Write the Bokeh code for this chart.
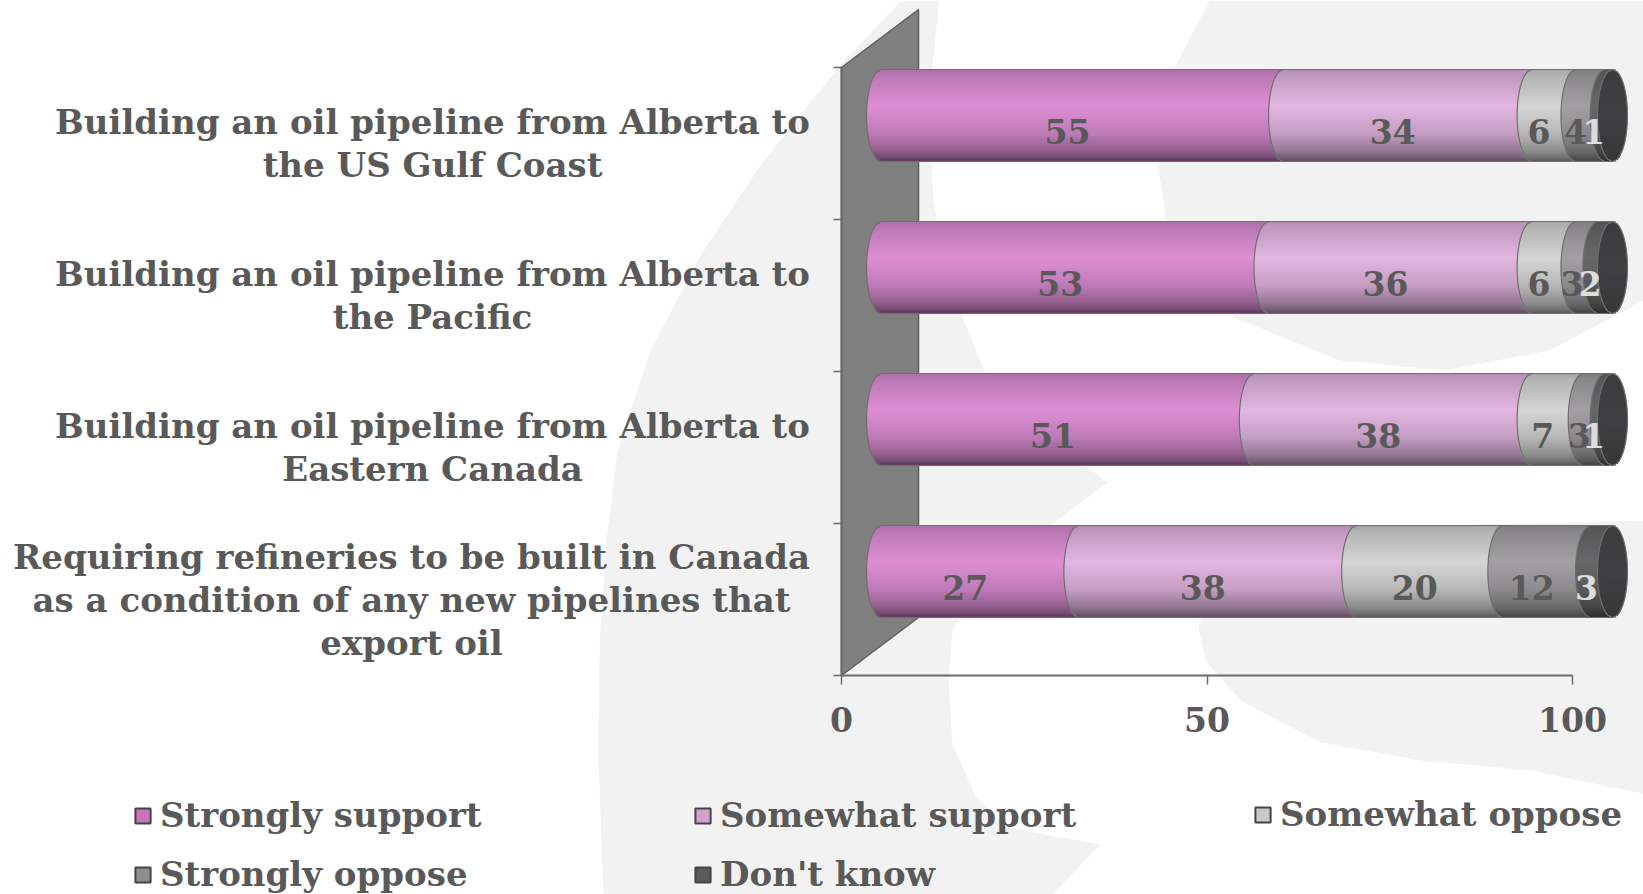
import numpy as np
from bokeh.plotting import figure
from bokeh.models import (Range1d, LinearAxis, FixedTicker, Legend, LegendItem,
                          ColumnDataSource)
from bokeh.core.properties import value
from bokeh.embed import file_html
from bokeh.resources import INLINE

# ---------------- data ----------------
categories = [
    "Building an oil pipeline from Alberta to\nthe US Gulf Coast",
    "Building an oil pipeline from Alberta to\nthe Pacific",
    "Building an oil pipeline from Alberta to\nEastern Canada",
    "Requiring refineries to be built in Canada\nas a condition of any new pipelines that\nexport oil",
]
series_names = ["Strongly support", "Somewhat support", "Somewhat oppose",
                "Strongly oppose", "Don't know"]
strongly_support = [55, 53, 51, 27]
somewhat_support = [34, 36, 38, 38]
somewhat_oppose = [6, 6, 7, 20]
strongly_oppose = [4, 3, 3, 12]
dont_know = [1, 2, 1, 3]
x_ticks = [0, 50, 100]

series_values = [strongly_support, somewhat_support, somewhat_oppose,
                 strongly_oppose, dont_know]

# ---------------- styling / layout ----------------
FONT_NAME = "DejaVu Serif"
FONT = value(FONT_NAME)
TXT = "#595959"
peak_rgb = [(221, 142, 213), (227, 182, 225), (213, 213, 213),
            (163, 161, 163), (104, 104, 106)]
legend_colors = ["#c672bd", "#d4a0d0", "#c8c8c8", "#8e8e8e", "#5a5a5a"]
label_colors = [TXT, TXT, TXT, TXT, "#dcdcdc"]
cap_rgb = (64, 63, 66)

W, H = 1643, 894
PXX, X0PX = 7.31, 841.0     # px per x-unit, px of x=0
PXY, Y0PX = 152.0, 143.0    # px per category, px of first category centre


def X(px):
    return (px - X0PX) / PXX


def Y(py):
    return (py - Y0PX) / PXY


BDX = 40 / PXX      # 3-D depth shift of bars (x)
BDY = -28 / PXY     # 3-D depth shift of bars (y)
R = 46 / PXY        # half bar thickness
RX = 15 / PXX       # horizontal radius of cylinder ends

p = figure(width=W, height=H, x_range=Range1d(X(0), X(W)),
           y_range=Range1d(Y(H), Y(0)), output_backend="svg",
           toolbar_location=None, x_axis_type=None, y_axis_type=None,
           min_border=0, outline_line_color=None, background_fill_color="white",
           border_fill_color="white")
p.xgrid.visible = False
p.ygrid.visible = False

# ---------------- background decoration ----------------
bg = "#f2f2f2"
left_band = [(603, 894), (598, 760), (599, 644), (606, 540), (617, 450), (650, 350),
             (700, 255), (760, 165), (841, 63), (901, 0), (939, 0), (928, 100),
             (933, 200), (946, 277), (985, 373), (1040, 430), (1107, 482),
             (1030, 540), (975, 590), (952, 630), (948, 680), (952, 744),
             (975, 795), (1006, 827), (1100, 844), (1052, 894)]
top_right = [(1209, 0), (1174, 67), (1158, 167), (1170, 250), (1233, 317),
             (1339, 360), (1444, 370), (1549, 350), (1643, 300), (1643, 0)]
low_right = [(1198, 627), (1205, 600), (1240, 560), (1320, 535), (1450, 525),
             (1643, 520), (1643, 793), (1530, 770), (1420, 760), (1317, 741),
             (1240, 700), (1205, 660)]
for poly in (left_band, top_right, low_right):
    p.patch([X(a) for a, b in poly], [Y(b) for a, b in poly],
            fill_color=bg, line_color=None)

# ---------------- back wall ----------------
n_cat = len(categories)
wall_top, wall_bot = Y(67), Y(675)
depth_x, depth_y = X(918) - X(841), Y(9) - Y(67)
wx = [0, depth_x, depth_x, 0]
wy = [wall_top, wall_top + depth_y, wall_bot + depth_y, wall_bot]
p.patch(wx, wy, fill_color="#808080", line_color="#5e5e5e", line_width=1.5)

# ---------------- cylinders ----------------
N = 40
t_edges = np.linspace(0, 1, N + 1)
t_mid = (t_edges[:-1] + t_edges[1:]) / 2
mult = np.interp(t_mid, [0, 0.08, 0.4, 0.7, 0.9, 1.0],
                 [0.78, 0.85, 1.0, 0.86, 0.64, 0.42])
hmid = -R + 2 * R * t_mid
wj = RX * np.sqrt(np.clip(1 - (hmid / R) ** 2, 0, 1))
overlap = 0.8 / PXY


def shade(rgb, m):
    r, g, b = [int(max(0, min(255, round(c * m)))) for c in rgb]
    return "#%02x%02x%02x" % (r, g, b)


vals = np.array(series_values, dtype=float)          # series x category
ends = np.cumsum(vals, axis=0)
starts = ends - vals
totals = ends[-1]
yc = np.arange(n_cat) + BDY

# legend proxies: flat segment bodies, fully hidden under the shaded stripes
proxies = []
for k in range(len(series_names)):
    proxies.append(p.quad(left=list(starts[k] + BDX - 0.5 * RX),
                          right=list(ends[k] + BDX - 0.5 * RX),
                          top=list(yc - 0.4 * R), bottom=list(yc + 0.4 * R),
                          fill_color=legend_colors[k], line_color="#444444",
                          line_width=2))

for k in range(len(series_names)):
    d = dict(left=[], right=[], top=[], bottom=[], color=[])
    for i in range(n_cat):
        for j in range(N):
            d["left"].append(starts[k, i] + BDX - wj[j])
            d["right"].append(ends[k, i] + BDX - wj[j])
            d["top"].append(yc[i] - R + 2 * R * t_edges[j])
            d["bottom"].append(min(yc[i] - R + 2 * R * t_edges[j + 1] + overlap, yc[i] + R))
            d["color"].append(shade(peak_rgb[k], mult[j]))
    p.quad(left="left", right="right", top="top", bottom="bottom",
           fill_color="color", line_color=None, source=ColumnDataSource(d))

# end caps
d = dict(left=[], right=[], top=[], bottom=[], color=[])
capm = np.interp(t_mid, [0, 0.5, 1.0], [0.92, 1.0, 0.85])
for i in range(n_cat):
    for j in range(N):
        d["left"].append(totals[i] + BDX - wj[j])
        d["right"].append(totals[i] + BDX + wj[j])
        d["top"].append(yc[i] - R + 2 * R * t_edges[j])
        d["bottom"].append(min(yc[i] - R + 2 * R * t_edges[j + 1] + overlap, yc[i] + R))
        d["color"].append(shade(cap_rgb, capm[j]))
p.quad(left="left", right="right", top="top", bottom="bottom",
       fill_color="color", line_color=None, source=ColumnDataSource(d))

# outlines
hh = np.linspace(-R, R, 41)
ww = RX * np.sqrt(np.clip(1 - (hh / R) ** 2, 0, 1))
xs, ys = [], []
for i in range(n_cat):
    xs.append([BDX, totals[i] + BDX]); ys.append([yc[i] - R, yc[i] - R])
    xs.append([BDX, totals[i] + BDX]); ys.append([yc[i] + R, yc[i] + R])
    for k in range(len(series_names)):
        xs.append(list(starts[k, i] + BDX - ww)); ys.append(list(yc[i] + hh))
    xs.append(list(totals[i] + BDX - ww) + list((totals[i] + BDX + ww)[::-1]))
    ys.append(list(yc[i] + hh) + list((yc[i] + hh)[::-1]))
p.multi_line(xs, ys, line_color="#6e6e6e", line_width=1.2)

# data labels
lab = dict(x=[], y=[], text=[], color=[])
for k in range(len(series_names)):
    for i in range(n_cat):
        lab["x"].append((starts[k, i] + ends[k, i]) / 2 + BDX - RX)
        lab["y"].append(yc[i] + 16 / PXY)
        lab["text"].append("%d" % vals[k, i])
        lab["color"].append(label_colors[k])
p.text(x="x", y="y", text="text", text_color="color", source=ColumnDataSource(lab),
       text_font=FONT, text_font_style="bold", text_font_size="33px",
       text_align="center", text_baseline="middle")

# category labels
label_center_px = [432, 432, 432, 411]
cl = dict(x=[], y=[], text=[])
for i, c in enumerate(categories):
    lines = c.split("\n")
    n = len(lines)
    for li, t in enumerate(lines):
        cl["x"].append(X(label_center_px[i]))
        cl["y"].append(i + (li - (n - 1) / 2) * 43 / PXY)
        cl["text"].append(t)
p.text(x="x", y="y", text="text", source=ColumnDataSource(cl), text_color=TXT,
       text_font=FONT, text_font_style="bold", text_font_size="34px",
       text_align="center", text_baseline="middle")

# ---------------- axes ----------------
xaxis = LinearAxis(fixed_location=n_cat - 0.5, bounds=(x_ticks[0], x_ticks[-1]),
                   ticker=FixedTicker(ticks=x_ticks, minor_ticks=[]),
                   axis_line_color="#6a6a6a", axis_line_width=2,
                   major_tick_line_color="#6a6a6a", major_tick_line_width=1.5,
                   major_tick_in=0, major_tick_out=9, minor_tick_line_color=None,
                   major_label_text_font=FONT_NAME, major_label_text_font_style="bold",
                   major_label_text_font_size="33px", major_label_text_color=TXT,
                   major_label_standoff=22)
p.add_layout(xaxis, "below")

bounds_ticks = [i - 0.5 for i in range(n_cat + 1)]
yaxis = LinearAxis(fixed_location=0, bounds=(bounds_ticks[0], bounds_ticks[-1]),
                   ticker=FixedTicker(ticks=bounds_ticks, minor_ticks=[]),
                   axis_line_color="#6a6a6a", axis_line_width=2,
                   major_tick_line_color="#6a6a6a", major_tick_line_width=1.5,
                   major_tick_in=0, major_tick_out=8, minor_tick_line_color=None,
                   major_label_overrides={t: "" for t in bounds_ticks},
                   major_label_text_font_size="0px")
p.add_layout(yaxis, "left")

# ---------------- legend ----------------
items = [LegendItem(label=series_names[k], renderers=[proxies[k]])
         for k in range(len(series_names))]
leg_cols = [([0, 3], 133, 0), ([1, 4], 693, 0), ([2], 1253, 60)]
for idx, lx, ly in leg_cols:
    leg = Legend(items=[items[k] for k in idx], location=(lx, ly),
                 orientation="vertical", padding=0, margin=0, spacing=19,
                 glyph_width=19, glyph_height=19, label_standoff=8,
                 label_text_font=FONT_NAME, label_text_font_style="bold",
                 label_text_font_size="34px", label_text_color=TXT,
                 border_line_color=None, background_fill_alpha=0)
    p.add_layout(leg)

open("out.html", "w").write(file_html(p, INLINE))
